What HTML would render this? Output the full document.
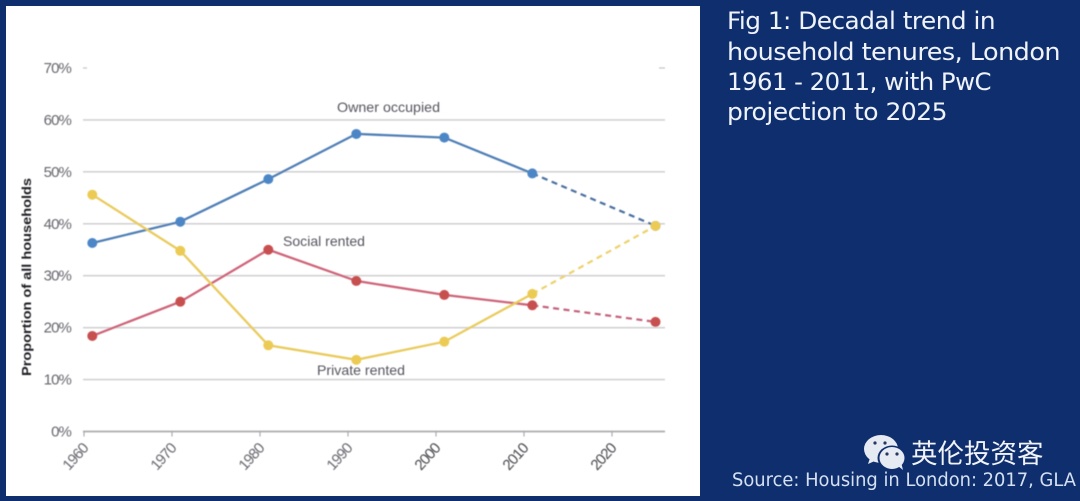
<!DOCTYPE html>
<html>
<head>
<meta charset="utf-8">
<style>
html,body{margin:0;padding:0;width:1080px;height:501px;overflow:hidden;background:#0e2e6e}
svg{display:block}
.tick{font-family:"Liberation Sans",sans-serif;font-size:15px;fill:#66666e;letter-spacing:-.9px}
.lab{font-family:"Liberation Sans",sans-serif;font-size:14px;fill:#55555f}
.head{font-family:"DejaVu Sans",sans-serif;font-size:24px;fill:#f0f4fa;letter-spacing:-.5px}
</style>
</head>
<body>
<svg id="chart" width="1080" height="501" viewBox="0 0 1080 501" xmlns="http://www.w3.org/2000/svg">
  <defs><filter id="soft" x="-5%" y="-5%" width="110%" height="110%"><feGaussianBlur stdDeviation="0.45"/></filter></defs>
  <rect width="1080" height="501" fill="#0e2e6e"/>
  <rect x="6" y="6" width="694" height="490" fill="#ffffff"/>
  <g id="plot" filter="url(#soft)"></g>
  <g>
    <text class="head" x="727" y="29" textLength="268" lengthAdjust="spacingAndGlyphs">Fig 1: Decadal trend in</text>
    <text class="head" x="727" y="60" textLength="333" lengthAdjust="spacingAndGlyphs">household tenures, London</text>
    <text class="head" x="727" y="90" textLength="264" lengthAdjust="spacingAndGlyphs">1961 - 2011, with PwC</text>
    <text class="head" x="727" y="120" textLength="220" lengthAdjust="spacingAndGlyphs">projection to 2025</text>
    <g>
      <ellipse cx="881" cy="449" rx="17" ry="14" fill="#e6eaf2"/>
      <path d="M870 458 L868 464 L877 460 Z" fill="#e6eaf2"/>
      <ellipse cx="892" cy="458" rx="14.5" ry="12.5" fill="#0e2e6e"/>
      <ellipse cx="892" cy="458" rx="12.5" ry="11" fill="#e6eaf2"/>
      <path d="M898 466 L903 470 L901 462 Z" fill="#e6eaf2"/>
      <circle cx="875" cy="443" r="1.6" fill="#26385f"/>
      <circle cx="885" cy="443" r="1.6" fill="#26385f"/>
      <circle cx="887" cy="454" r="1.6" fill="#26385f"/>
      <circle cx="897" cy="454" r="1.6" fill="#26385f"/>
    </g>
    <text x="911" y="463" font-family="'Liberation Sans','Noto Sans CJK SC',sans-serif" font-size="26.5" fill="#f0f3f8">英伦投资客</text>
    <text x="732" y="486" font-family="'DejaVu Sans',sans-serif" font-size="18.5" fill="#d5e0f0" textLength="344" lengthAdjust="spacingAndGlyphs">Source: Housing in London: 2017, GLA</text>
  </g>
</svg>
<script>
const yearTicks = [1960, 1970, 1980, 1990, 2000, 2010, 2020];
const pctTicks = [0, 10, 20, 30, 40, 50, 60, 70];
const histYears = [1961, 1971, 1981, 1991, 2001, 2011];
const projYears = [2011, 2025];
const ownerHist = [36.3, 40.4, 48.6, 57.3, 56.6, 49.7];
const ownerProj = [49.7, 39.6];
const socialHist = [18.4, 25.0, 35.0, 29.0, 26.3, 24.3];
const socialProj = [24.3, 21.1];
const privateHist = [45.6, 34.8, 16.6, 13.8, 17.3, 26.5];
const privateProj = [26.5, 39.6];

const NS = 'http://www.w3.org/2000/svg';
const plot = document.getElementById('plot');
const sx = yr => 83.5 + (yr - 1960) * 8.8;
const sy = v => 431.5 - v * 5.193;

function mk(tag, attrs, parent) {
  const el = document.createElementNS(NS, tag);
  for (const k in attrs) el.setAttribute(k, attrs[k]);
  (parent || plot).appendChild(el);
  return el;
}

pctTicks.forEach(p => {
  const y = sy(p);
  if (p > 0 && p < 70) {
    const g = mk('line', {x1: 83, x2: 665, y1: y, y2: y, stroke: '#d2d2d4', 'stroke-width': 1.6});
    
    
  }
  const t = mk('text', {class: 'tick', x: 71, y: y + 5, 'text-anchor': 'end'});
  t.textContent = p + '%';
  
  
});

[[83, 87], [659, 665]].forEach((r, i) => {
  const d = mk('line', {x1: r[0], x2: r[1], y1: sy(70), y2: sy(70), stroke: '#c4c4c6', 'stroke-width': 1.2});
  
  
});

const axis = mk('line', {x1: 83, x2: 665, y1: sy(0), y2: sy(0), stroke: '#ababae', 'stroke-width': 1.8});



yearTicks.forEach(yr => {
  const x = sx(yr) + .5;
  const m = mk('line', {x1: x, x2: x, y1: sy(0), y2: sy(0) + 5, stroke: '#a5a5a8', 'stroke-width': 1.1});
  
  
  const t = mk('text', {class: 'tick', x: x + 5, y: 449, 'text-anchor': 'end', transform: 'rotate(-48 ' + (x + 5) + ' 449)', style: yr >= 2000 ? 'fill:#48484e' : ''});
  t.textContent = yr;
  
  
});

function pts(years, vals) {
  return years.map((yr, i) => sx(yr).toFixed(1) + ',' + sy(vals[i]).toFixed(1)).join(' ');
}

function drawSeries(name, lineColor, dashColor, dotColor, hist, proj) {
  const dash = mk('polyline', {points: pts(projYears, proj), fill: 'none', stroke: dashColor, 'stroke-width': 2.2, 'stroke-dasharray': '6 4.5'});
  
  
  const line = mk('polyline', {points: pts(histYears, hist), fill: 'none', stroke: lineColor, 'stroke-width': 2.3});
  
  
  histYears.forEach((yr, i) => {
    const c = mk('circle', {cx: sx(yr), cy: sy(hist[i]), r: 5, fill: dotColor});
    
    
  });
  const e = mk('circle', {cx: sx(projYears[1]), cy: sy(proj[1]), r: 5, fill: dotColor});
  
  
}

drawSeries('owner-occupied', '#4f7fb6', '#4a6f9f', '#4d86c6', ownerHist, ownerProj);
drawSeries('social-rented', '#cf6478', '#c4607a', '#c8504f', socialHist, socialProj);
drawSeries('private-rented', '#e9cb5c', '#edd16b', '#eccb55', privateHist, privateProj);

const labels = [
  ['Owner occupied', 337, 112, 'owner-occupied-label', 103],
  ['Social rented', 283, 246, 'social-rented-label', 82],
  ['Private rented', 317, 375, 'private-rented-label', 88]
];
labels.forEach(l => {
  const t = mk('text', {class: 'lab', x: l[1], y: l[2], textLength: l[4], lengthAdjust: 'spacingAndGlyphs'});
  t.textContent = l[0];
  
  
});

const yt = mk('text', {x: 0, y: 0, transform: 'translate(31 376) rotate(-90)', 'font-family': '"Liberation Sans",sans-serif', 'font-size': 13, 'font-weight': 'bold', fill: '#1e1e22', textLength: 198, lengthAdjust: 'spacingAndGlyphs'});
yt.textContent = 'Proportion of all households';


</script>
</body>
</html>
